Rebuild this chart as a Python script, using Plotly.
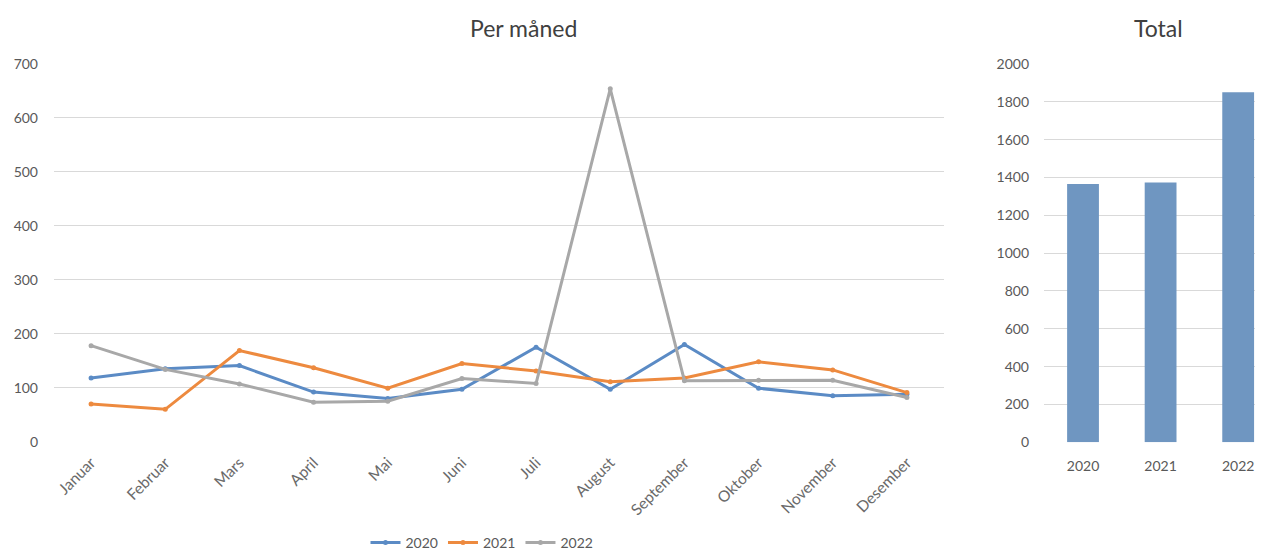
import plotly.graph_objects as go

months = ["Januar", "Februar", "Mars", "April", "Mai", "Juni", "Juli",
          "August", "September", "Oktober", "November", "Desember"]
v2020 = [118, 135, 141, 92, 80, 97, 175, 97, 180, 99, 85, 88]
v2021 = [70, 60, 169, 137, 99, 145, 131, 111, 118, 148, 133, 91]
v2022 = [178, 134, 107, 73, 75, 117, 108, 654, 113, 114, 114, 82]
years = ["2020", "2021", "2022"]
totals = [1365, 1374, 1850]

colors = {"2020": "#5B8BC5", "2021": "#ED8A3F", "2022": "#A8A8A8"}
W, H = 1263, 549
OFF = 8  # page body margin
FONT = "Lato"
TXT = "#595959"
GRID = "#D9D9D9"

def px(x):
    return (x - OFF) / W

def py(y):
    return 1 - (y - OFF) / H

fig = go.Figure()
for name, vals in [("2020", v2020), ("2021", v2021), ("2022", v2022)]:
    fig.add_trace(go.Scatter(
        x=months, y=vals, name=name, mode="lines+markers",
        line=dict(color=colors[name], width=3),
        marker=dict(color=colors[name], size=5),
        xaxis="x", yaxis="y"))

fig.add_trace(go.Bar(
    x=years, y=totals, marker=dict(color="#6F96C1", line=dict(width=0)),
    width=0.41, showlegend=False, xaxis="x2", yaxis="y2"))

fig.update_layout(
    width=W, height=H,
    margin=dict(l=0, r=0, t=0, b=0, autoexpand=False),
    paper_bgcolor="white", plot_bgcolor="white",
    font=dict(family=FONT, color=TXT, size=14),
    xaxis=dict(domain=[px(54), px(944)], range=[-0.5, 11.5], type="category",
               tickangle=-45, showgrid=False, zeroline=False, showline=False,
               ticks="", ticklabelstandoff=8, automargin=False,
               tickfont=dict(size=15.5, color="#6A6A6A"), anchor="y"),
    yaxis=dict(domain=[py(441.7), py(64)], range=[0, 700], dtick=100,
               showgrid=True, gridcolor=GRID, gridwidth=1, zeroline=False,
               showline=False, ticks="", ticklabelstandoff=15, automargin=False,
               tickfont=dict(size=14, color=TXT), anchor="x"),
    xaxis2=dict(domain=[px(1044), px(1263)], range=[-0.503, 2.32], type="category",
                showgrid=False, zeroline=False, showline=False, ticks="",
                ticklabelstandoff=14, automargin=False,
                tickfont=dict(size=14, color=TXT), anchor="y2"),
    yaxis2=dict(domain=[py(442.3), py(64)], range=[0, 2000], dtick=200,
                showgrid=True, gridcolor=GRID, gridwidth=1, zeroline=False,
                showline=False, ticks="", ticklabelstandoff=14, automargin=False,
                tickfont=dict(size=14, color=TXT), anchor="x2"),
    legend=dict(orientation="h", x=px(482), xanchor="center", y=py(543),
                yanchor="middle", font=dict(size=14, color=TXT),
                itemwidth=30, bgcolor="rgba(0,0,0,0)"),
    annotations=[
        dict(text="Per måned", x=px(523), y=py(28), xref="paper", yref="paper",
             xanchor="center", yanchor="middle",
             showarrow=False, font=dict(size=23, color="#404040", family=FONT)),
        dict(text="Total", x=px(1158), y=py(28), xref="paper", yref="paper",
             xanchor="center", yanchor="middle",
             showarrow=False, font=dict(size=23, color="#404040", family=FONT)),
    ],
)

fig.write_html("out.html")
